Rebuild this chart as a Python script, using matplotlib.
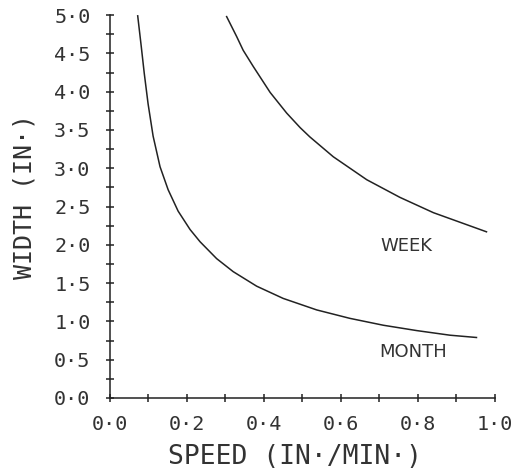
import numpy as np
import matplotlib
matplotlib.use("Agg")
import matplotlib.pyplot as plt
from matplotlib.ticker import MultipleLocator, FixedLocator

# values
month_speed = [0.072, 0.081, 0.089, 0.099, 0.112, 0.130, 0.151, 0.177, 0.208, 0.234,
               0.277, 0.320, 0.381, 0.450, 0.537, 0.623, 0.710, 0.797, 0.883, 0.952]
month_width = [4.99, 4.60, 4.24, 3.84, 3.42, 3.02, 2.72, 2.44, 2.20, 2.04,
               1.82, 1.65, 1.46, 1.30, 1.15, 1.04, 0.95, 0.88, 0.82, 0.79]
week_speed = [0.303, 0.329, 0.346, 0.372, 0.416, 0.459, 0.494, 0.519, 0.580,
              0.667, 0.753, 0.840, 0.978]
week_width = [4.98, 4.72, 4.54, 4.33, 3.99, 3.72, 3.53, 3.41, 3.15,
              2.85, 2.62, 2.42, 2.17]

x_ticks = [0.0, 0.2, 0.4, 0.6, 0.8, 1.0]
y_ticks = [0.0, 0.5, 1.0, 1.5, 2.0, 2.5, 3.0, 3.5, 4.0, 4.5, 5.0]

ink = "#222222"
mono = "DejaVu Sans Mono"

fig = plt.figure(figsize=(5.27, 4.71), dpi=100)
ax = fig.add_axes([0.2087, 0.155, 0.7305, 0.813])

ax.plot(month_speed, month_width, color=ink, linewidth=1.1)
ax.plot(week_speed, week_width, color=ink, linewidth=1.1)

ax.set_xlim(0, 1.0)
ax.set_ylim(0, 5.0)

for s in ["top", "right"]:
    ax.spines[s].set_visible(False)
for s in ["left", "bottom"]:
    ax.spines[s].set_color(ink)
    ax.spines[s].set_linewidth(1.1)

ax.xaxis.set_major_locator(FixedLocator(x_ticks))
ax.xaxis.set_minor_locator(MultipleLocator(0.1))
ax.yaxis.set_major_locator(FixedLocator(y_ticks))
ax.yaxis.set_minor_locator(MultipleLocator(0.25))
ax.set_xticklabels([f"{v:.1f}".replace(".", "\u00b7") for v in x_ticks])
ax.set_yticklabels([f"{v:.1f}".replace(".", "\u00b7") for v in y_ticks])

ax.tick_params(which="both", direction="inout", length=6, width=1.1, color=ink)
ax.tick_params(axis="x", which="major", pad=9)
ax.tick_params(axis="y", which="major", pad=11)
for lab in ax.get_xticklabels() + ax.get_yticklabels():
    lab.set_fontfamily(mono)
    lab.set_fontsize(14.5)
    lab.set_color("#333333")
    lab.set_clip_on(False)
for t in ax.xaxis.get_major_ticks() + ax.yaxis.get_major_ticks():
    t.tick1line.set_clip_on(False)

ax.set_xlabel("SPEED (IN\u00b7/MIN\u00b7)", fontfamily=mono, fontsize=19, color="#333333")
ax.set_ylabel("WIDTH (IN\u00b7)", fontfamily=mono, fontsize=18, color="#333333")
ax.xaxis.label.set_va("center")
ax.yaxis.label.set_va("center")
ax.xaxis.set_label_coords(0.48, -0.154)
ax.yaxis.set_label_coords(-0.221, 0.525)

ax.text(0.770, 1.99, "WEEK", ha="center", va="center", fontsize=13, color="#333333")
ax.text(0.788, 0.60, "MONTH", ha="center", va="center", fontsize=13, color="#333333")

fig.savefig("out.png", dpi=100)
